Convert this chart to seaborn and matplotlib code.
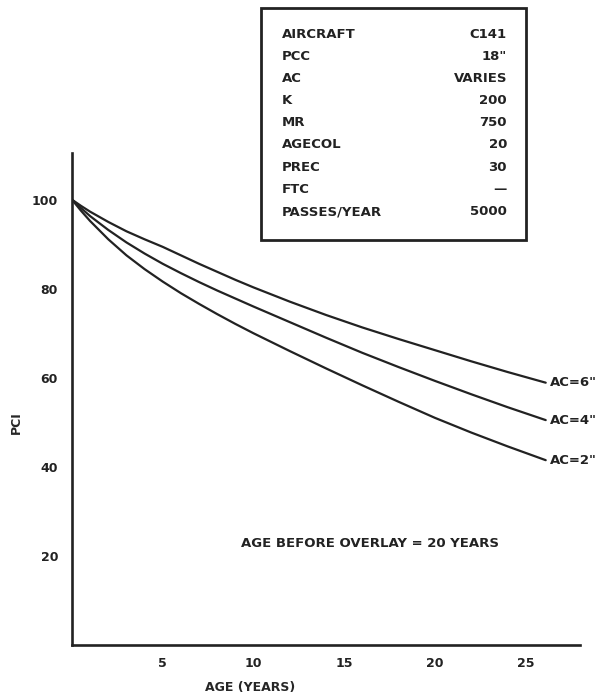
import matplotlib
matplotlib.use("Agg")
import matplotlib.pyplot as plt
import matplotlib.patches as mpatches
import numpy as np
import pandas as pd
import seaborn as sns

# ---- data ----
age_years = [0, 0.5, 1, 2, 3, 4, 5, 6, 7, 8, 9, 10, 12, 14, 16, 18, 20, 22, 24, 26.1]
pci_ac6 = [100, 98.6, 97.3, 95.0, 92.9, 91.1, 89.4, 87.5, 85.6, 83.8, 82.0, 80.3,
           77.1, 74.1, 71.3, 68.7, 66.2, 63.7, 61.3, 58.9]
pci_ac4 = [100, 98.1, 96.3, 93.2, 90.4, 87.9, 85.6, 83.5, 81.5, 79.6, 77.8, 76.0,
           72.5, 69.0, 65.6, 62.4, 59.3, 56.3, 53.4, 50.5]
pci_ac2 = [100, 97.5, 95.2, 91.1, 87.5, 84.4, 81.6, 79.0, 76.6, 74.3, 72.1, 70.0,
           66.0, 62.1, 58.3, 54.6, 51.0, 47.7, 44.6, 41.5]
series_labels = ['AC=6"', 'AC=4"', 'AC=2"']

x_ticks = [5, 10, 15, 20, 25]
y_ticks = [20, 40, 60, 80, 100]

info_keys = ["AIRCRAFT", "PCC", "AC", "K", "MR", "AGECOL", "PREC", "FTC", "PASSES/YEAR"]
info_vals = ["C141", '18"', "VARIES", "200", "750", "20", "30", "\u2014", "5000"]

note_text = "AGE BEFORE OVERLAY = 20 YEARS"

# ---- build long-form table ----
frames = []
for lab, vals in zip(series_labels, [pci_ac6, pci_ac4, pci_ac2]):
    frames.append(pd.DataFrame({"age": age_years, "pci": vals, "ac": lab}))
df = pd.concat(frames, ignore_index=True)

sns.set_style("white")
plt.rcParams["font.family"] = ["DejaVu Sans"]
plt.rcParams["font.weight"] = "bold"

fig = plt.figure(figsize=(6.05, 6.96), dpi=100)
ax = fig.add_axes([0.119, 0.0733, 0.840, 0.707])

sns.lineplot(data=df, x="age", y="pci", hue="ac", palette=["#222222"] * 3,
             linewidth=1.6, legend=False, ax=ax, sort=True)

ax.set_xlim(0, 28)
ax.set_ylim(0, 110.5)
ax.set_xticks(x_ticks)
ax.set_yticks(y_ticks)
ax.set_xticklabels([str(t) for t in x_ticks], fontsize=9, fontweight="bold")
ax.set_yticklabels([str(t) for t in y_ticks], fontsize=9, fontweight="bold")
ax.tick_params(axis="both", direction="in", length=7, width=1.3, colors="#222222",
               pad=9)
ax.tick_params(axis="y", pad=10)

for side in ["top", "right"]:
    ax.spines[side].set_visible(False)
for side in ["left", "bottom"]:
    ax.spines[side].set_color("#222222")
    ax.spines[side].set_linewidth(1.9)

ax.set_xlabel("AGE (YEARS)", fontsize=9, fontweight="bold")
ax.set_ylabel("PCI", fontsize=9, fontweight="bold")
ax.xaxis.set_label_coords(0.35, -0.074)
ax.yaxis.set_label_coords(-0.096, 0.451)

# curve labels at line ends
for lab, vals in zip(series_labels, [pci_ac6, pci_ac4, pci_ac2]):
    ax.text(age_years[-1] + 0.25, vals[-1], lab, fontsize=9.5, fontweight="bold",
            va="center", ha="left", color="#222222", clip_on=False)

ax.text(16.4, 22.9, note_text, fontsize=9.5, fontweight="bold",
        ha="center", va="center", color="#222222")

# info box in figure coordinates
W, H = 605, 696
box_l, box_r, box_t, box_b = 261, 526, 8, 240
rect = mpatches.Rectangle((box_l / W, 1 - box_b / H), (box_r - box_l) / W,
                          (box_b - box_t) / H, transform=fig.transFigure,
                          fill=False, edgecolor="#222222", linewidth=2.0)
fig.add_artist(rect)
row_y0, row_dy = 34, 22.2
for i, (k, v) in enumerate(zip(info_keys, info_vals)):
    yy = 1 - (row_y0 + i * row_dy) / H
    fig.text(282 / W, yy, k, fontsize=9.5, fontweight="bold", ha="left",
             va="center", color="#222222")
    fig.text(507 / W, yy, v, fontsize=9.5, fontweight="bold", ha="right",
             va="center", color="#222222")

fig.savefig("out.png", dpi=100)
